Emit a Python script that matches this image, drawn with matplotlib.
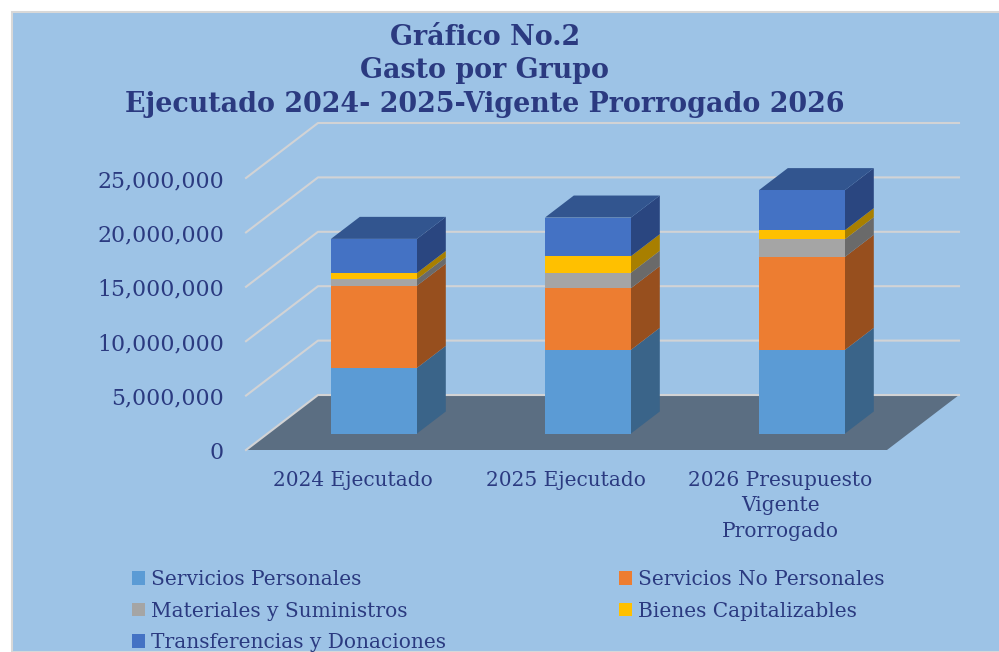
import matplotlib.pyplot as plt
from matplotlib.patches import Patch, Rectangle

# values
categories = ['2024 Ejecutado', '2025 Ejecutado', '2026 Presupuesto\nVigente\nProrrogado']
series_names = ['Servicios Personales', 'Servicios No Personales', 'Materiales y Suministros',
                'Bienes Capitalizables', 'Transferencias y Donaciones']
personales = [6030000, 7690000, 7690000]
no_personales = [7560000, 5670000, 8550000]
materiales = [590000, 1410000, 1620000]
bienes = [580000, 1530000, 830000]
transferencias = [3130000, 3550000, 3680000]
y_ticks = [0, 5000000, 10000000, 15000000, 20000000, 25000000]

series = [personales, no_personales, materiales, bienes, transferencias]
front_colors = ['#5B9BD5', '#ED7D31', '#A5A5A5', '#FFC000', '#4472C4']
side_colors = ['#3A6489', '#974F1E', '#6A6A6A', '#A87F00', '#2A4680']
top_color = '#32558F'
panel_color = '#9DC3E6'
text_color = '#2B3A80'
grid_color = '#D2D3D5'
floor_color = '#5B6E82'
font = 'DejaVu Serif'

W, H = 999, 652
px_cat = 214.0           # pixels between categories
px_val = 54.4 / 5000000  # pixels per unit of value
x0 = 352.4               # pixel of category 0 at the front of the floor
y0 = 450.0               # pixel of value 0 at the front of the floor
depth_x = 72 / px_cat    # depth of the chart box, in axis units
depth_y = 55 / px_val
bar_w = 86 / px_cat
bar_d0, bar_d1 = 0.3, 0.7

fig = plt.figure(figsize=(W / 100, H / 100), dpi=100, facecolor='white')
ax = fig.add_axes([0, 0, 1, 1])
ax.set_xlim(-x0 / px_cat, (W - x0) / px_cat)
ax.set_ylim(-(H - y0) / px_val, y0 / px_val)
ax.axis('off')


def proj(x, v, d):
    return x + d * depth_x, v + d * depth_y


def poly(pts, color, z):
    ax.fill([p[0] for p in pts], [p[1] for p in pts], color=color, lw=0, zorder=z)


ax.add_patch(Rectangle((12 / W, 0), 1, 1 - 12 / H, transform=ax.transAxes, facecolor=panel_color,
                       edgecolor='#D8D8D8', lw=1.5, zorder=0))

# box
xl = (246 - x0) / px_cat
xr = (887 - x0) / px_cat
poly([proj(xl, 0, 0), proj(xl, 0, 1), proj(xr, 0, 1), proj(xr, 0, 0)], floor_color, 1)
for t in y_ticks:
    a = proj(xl, t, 0)
    b = proj(xl, t, 1)
    c = proj(xr, t, 1)
    ax.plot([a[0], b[0], c[0]], [a[1], b[1], c[1]], color=grid_color, lw=1.5, zorder=2)
    ax.text(xl - 22 / px_cat, t - 3 / px_val, f'{t:,}', ha='right', va='center', family=font,
            fontsize=15.8, color=text_color)

# bars
for i in range(len(categories)):
    left = i - bar_w / 2
    right = i + bar_w / 2
    base = 0
    for s in range(len(series)):
        top = base + series[s][i]
        poly([proj(left, base, bar_d0), proj(right, base, bar_d0), proj(right, top, bar_d0), proj(left, top, bar_d0)],
             front_colors[s], 5)
        poly([proj(right, base, bar_d0), proj(right, base, bar_d1), proj(right, top, bar_d1), proj(right, top, bar_d0)],
             side_colors[s], 4)
        base = top
    poly([proj(left, base, bar_d0), proj(right, base, bar_d0), proj(right, base, bar_d1), proj(left, base, bar_d1)],
         top_color, 4)
    ax.text(i, -(471 - y0) / px_val, categories[i], ha='center', va='top', family=font, fontsize=14.5,
            color=text_color, linespacing=1.42)

ax.text(485 / W, 1 - 24 / H, 'Gráfico No.2\nGasto por Grupo\nEjecutado 2024- 2025-Vigente Prorrogado 2026',
        transform=ax.transAxes, ha='center', va='top', family=font, fontweight='bold', fontsize=19.4,
        color=text_color, linespacing=1.3)

# legend fills by column, so the items are given column by column
order = [0, 2, 4, 1, 3]
handles = [Patch(facecolor=front_colors[s], label=series_names[s]) for s in order]
ax.legend(handles=handles, ncol=2, loc='upper left', bbox_to_anchor=(126 / W, 1 - 564 / H), frameon=False,
          prop={'family': font, 'size': 14.5}, labelcolor=text_color, handlelength=0.65, handleheight=0.65,
          handletextpad=0.3, columnspacing=8.6, labelspacing=0.62, borderpad=0.3, borderaxespad=0)

fig.savefig('out.png', dpi=100)
